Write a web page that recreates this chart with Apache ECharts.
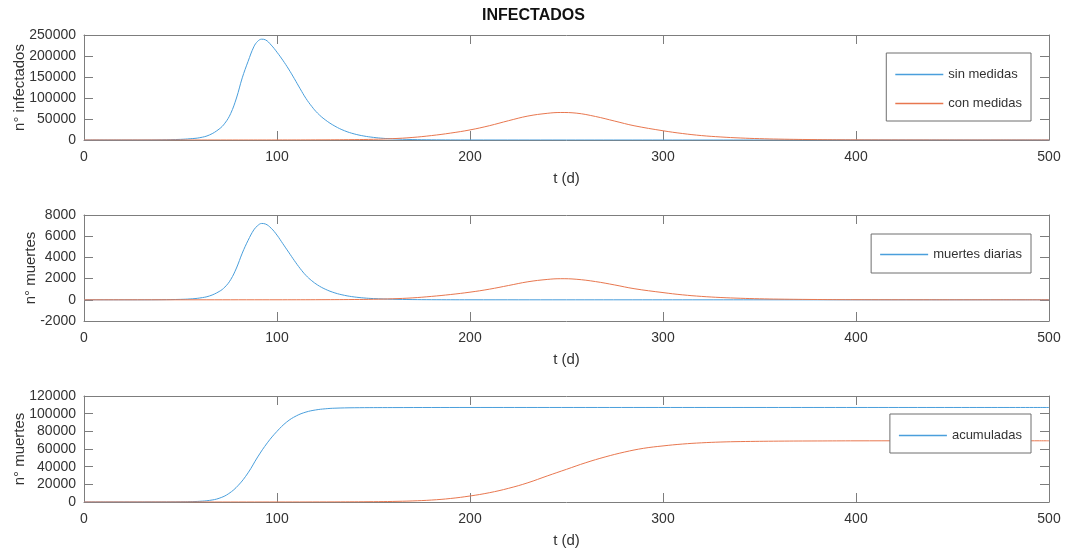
<!DOCTYPE html>
<html>
<head>
<meta charset="utf-8">
<script src="https://cdn.jsdelivr.net/npm/echarts@6/dist/echarts.min.js"></script>
<style>
html,body{margin:0;padding:0;background:#fff;}
#chart{width:1067px;height:548px;}
</style>
</head>
<body>
<div id="chart"></div>
<script>
// ---------- DATA ----------
const chartTitle = 'INFECTADOS';
const xTicks = [0, 100, 200, 300, 400, 500];

// Panel 1: infectados
const tInfSin = [0,30,40,50,55,60,65,70,73,76,79,82,85,88,90,92,94,97,100,103,106,109,112,115,118,121,125,130,135,140,145,150,155,160,170,180,190,200,250,500];
const infSin  = [0,0,300,1500,3000,5500,12000,26000,40000,63000,100000,148000,187000,222000,235000,240000,238500,226000,209000,190000,169000,146000,122000,99000,80000,64000,48000,33000,22000,14500,9500,6200,4000,2600,1100,450,180,70,0,0];
const tInfCon = [0,80,100,120,140,150,160,170,180,190,200,210,220,230,240,247,255,265,275,285,300,310,320,330,340,350,360,380,400,430,460,500];
const infCon  = [0,30,100,300,900,1700,3200,6000,10500,16500,24000,34000,46000,57000,63500,65500,64000,56000,45000,34000,22000,15500,10500,7200,4800,3200,2100,900,350,100,30,0];

// Panel 2: muertes diarias
const tMueSin = [0,30,40,50,55,60,65,70,73,76,79,82,85,88,90,92,94,97,100,103,106,109,112,115,118,121,125,130,135,140,145,150,160,170,180,200,250,500];
const mueSin  = [0,0,8,40,80,170,360,780,1200,1900,3000,4400,5600,6600,7000,7200,7150,6750,6100,5300,4500,3700,2950,2300,1800,1400,1000,650,420,270,175,115,50,22,9,2,0,0];
const tMueCon = [0,100,120,140,150,160,170,180,190,200,210,220,230,240,247,255,265,275,285,300,310,320,330,340,350,360,380,400,430,460,500];
const mueCon  = [0,3,9,27,50,95,180,320,500,720,1000,1350,1700,1920,1990,1940,1720,1400,1050,680,470,320,215,145,95,63,27,10,3,1,0];

// Panel 3: muertes acumuladas
const tAcuSin = [0,40,50,55,60,65,70,75,80,85,90,95,100,105,110,115,120,125,130,140,160,200,500];
const acuSin  = [0,30,150,350,800,1800,4200,9500,19000,33000,51000,67000,80000,90500,97500,101800,104200,105500,106200,106700,106900,107000,107000];
const tAcuCon = [0,100,130,150,160,170,180,190,200,210,220,230,240,250,260,270,280,290,300,310,320,330,340,360,380,400,450,500];
const acuCon  = [0,20,120,350,650,1200,2200,4000,6800,10500,15500,21800,29500,37000,44500,51000,56500,60800,63500,65600,67000,67900,68400,68900,69100,69250,69300,69300];

const yLabels = ['n° infectados', 'n° muertes', 'n° muertes'];
const xLabel = 't (d)';
const legendNames = [['sin medidas', 'con medidas'], ['muertes diarias'], ['acumuladas']];

// ---------- STYLE ----------
const FONT = '"Liberation Sans", Arial, Helvetica, sans-serif';
const BLUE = '#4a9fdc';
const ORANGE = '#e8774f';
const FRAME = '#7d7d7d';
const TXT = '#333333';

const zip = (t, v) => t.map((x, i) => [x, v[i]]);
const plain = v => String(v);

const grids = [
  {left: 84, right: 18, top: 35, height: 105, containLabel: false, outerBoundsMode: 'none'},
  {left: 84, right: 18, top: 215, height: 106, containLabel: false, outerBoundsMode: 'none'},
  {left: 84, right: 18, top: 396, height: 106, containLabel: false, outerBoundsMode: 'none'}
];
const yRanges = [
  {min: 0, max: 250000, interval: 50000},
  {min: -2000, max: 8000, interval: 2000},
  {min: 0, max: 120000, interval: 20000}
];
const yNameGaps = [57, 46, 57];

const xAxes = [], yAxes = [];
grids.forEach((g, i) => {
  xAxes.push({
    type: 'value', gridIndex: i, min: 0, max: 500, interval: 100, position: 'bottom',
    name: xLabel, nameLocation: 'middle', nameGap: 31, nameMoveOverlap: false,
    nameTextStyle: {fontFamily: FONT, fontSize: 15, color: TXT},
    axisLine: {show: true, onZero: false, lineStyle: {color: FRAME, width: 1}},
    axisTick: {show: true, inside: true, length: 9, lineStyle: {color: FRAME}},
    axisLabel: {show: true, margin: 10, fontFamily: FONT, fontSize: 14, color: TXT, formatter: plain},
    splitLine: {show: false}
  });
  xAxes.push({
    type: 'value', gridIndex: i, min: 0, max: 500, interval: 100, position: 'top',
    axisLine: {show: true, onZero: false, lineStyle: {color: FRAME, width: 1}},
    axisTick: {show: true, inside: true, length: 9, lineStyle: {color: FRAME}},
    axisLabel: {show: false}, splitLine: {show: false}
  });
  yAxes.push(Object.assign({
    type: 'value', gridIndex: i, position: 'left',
    name: yLabels[i], nameLocation: 'middle', nameGap: yNameGaps[i], nameMoveOverlap: false,
    nameTextStyle: {fontFamily: FONT, fontSize: 15, color: TXT},
    axisLine: {show: true, onZero: false, lineStyle: {color: FRAME, width: 1}},
    axisTick: {show: true, inside: true, length: 9, lineStyle: {color: FRAME}},
    axisLabel: {show: true, margin: 8, fontFamily: FONT, fontSize: 14, color: TXT, formatter: plain},
    splitLine: {show: false}
  }, yRanges[i]));
  yAxes.push(Object.assign({
    type: 'value', gridIndex: i, position: 'right',
    axisLine: {show: true, onZero: false, lineStyle: {color: FRAME, width: 1}},
    axisTick: {show: true, inside: true, length: 9, lineStyle: {color: FRAME}},
    axisLabel: {show: false}, splitLine: {show: false}
  }, yRanges[i]));
});

function line(name, data, color, gi) {
  return {
    name: name, type: 'line', data: data,
    xAxisIndex: gi * 2, yAxisIndex: gi * 2,
    symbol: 'none', showSymbol: false, smooth: 0.4,
    lineStyle: {color: color, width: 1}, itemStyle: {color: color},
    animation: false
  };
}

const series = [
  line('sin medidas', zip(tInfSin, infSin), BLUE, 0),
  line('con medidas', zip(tInfCon, infCon), ORANGE, 0),
  line('muertes diarias', zip(tMueSin, mueSin), BLUE, 1),
  line('muertes diarias con medidas', zip(tMueCon, mueCon), ORANGE, 1),
  line('acumuladas', zip(tAcuSin, acuSin), BLUE, 2),
  line('acumuladas con medidas', zip(tAcuCon, acuCon), ORANGE, 2)
];

const legendColors = [[BLUE, ORANGE], [BLUE], [BLUE]];
const legendTops = [53, 234, 414];
const legendPads = [[14, 9, 10, 9], [13, 9, 11, 9], [14, 9, 10, 9]];
function makeLegend(i) {
  return {
    orient: 'vertical', right: 36, top: legendTops[i], padding: legendPads[i].slice(),
    itemWidth: 48, itemHeight: 1.5, itemGap: 14,
    icon: 'rect',
    backgroundColor: '#ffffff', borderColor: '#6f6f6f', borderWidth: 1,
    textStyle: {fontFamily: FONT, fontSize: 13, color: TXT, lineHeight: 15},
    selectedMode: false, z: 10,
    data: legendNames[i].map((n, k) => ({
      name: n,
      itemStyle: {color: legendColors[i][k], borderWidth: 0, opacity: 1}
    }))
  };
}
const legends = [makeLegend(0), makeLegend(1), makeLegend(2)];

const chart = echarts.init(document.getElementById('chart'), null, {renderer: 'canvas'});
chart.setOption({
  backgroundColor: '#ffffff',
  animation: false,
  title: {
    text: chartTitle, left: 'center', top: 8, padding: 0,
    textStyle: {fontFamily: FONT, fontSize: 16, fontWeight: 'bold', color: '#111'}
  },
  legend: legends,
  grid: grids,
  xAxis: xAxes,
  yAxis: yAxes,
  series: series
});
</script>
</body>
</html>
